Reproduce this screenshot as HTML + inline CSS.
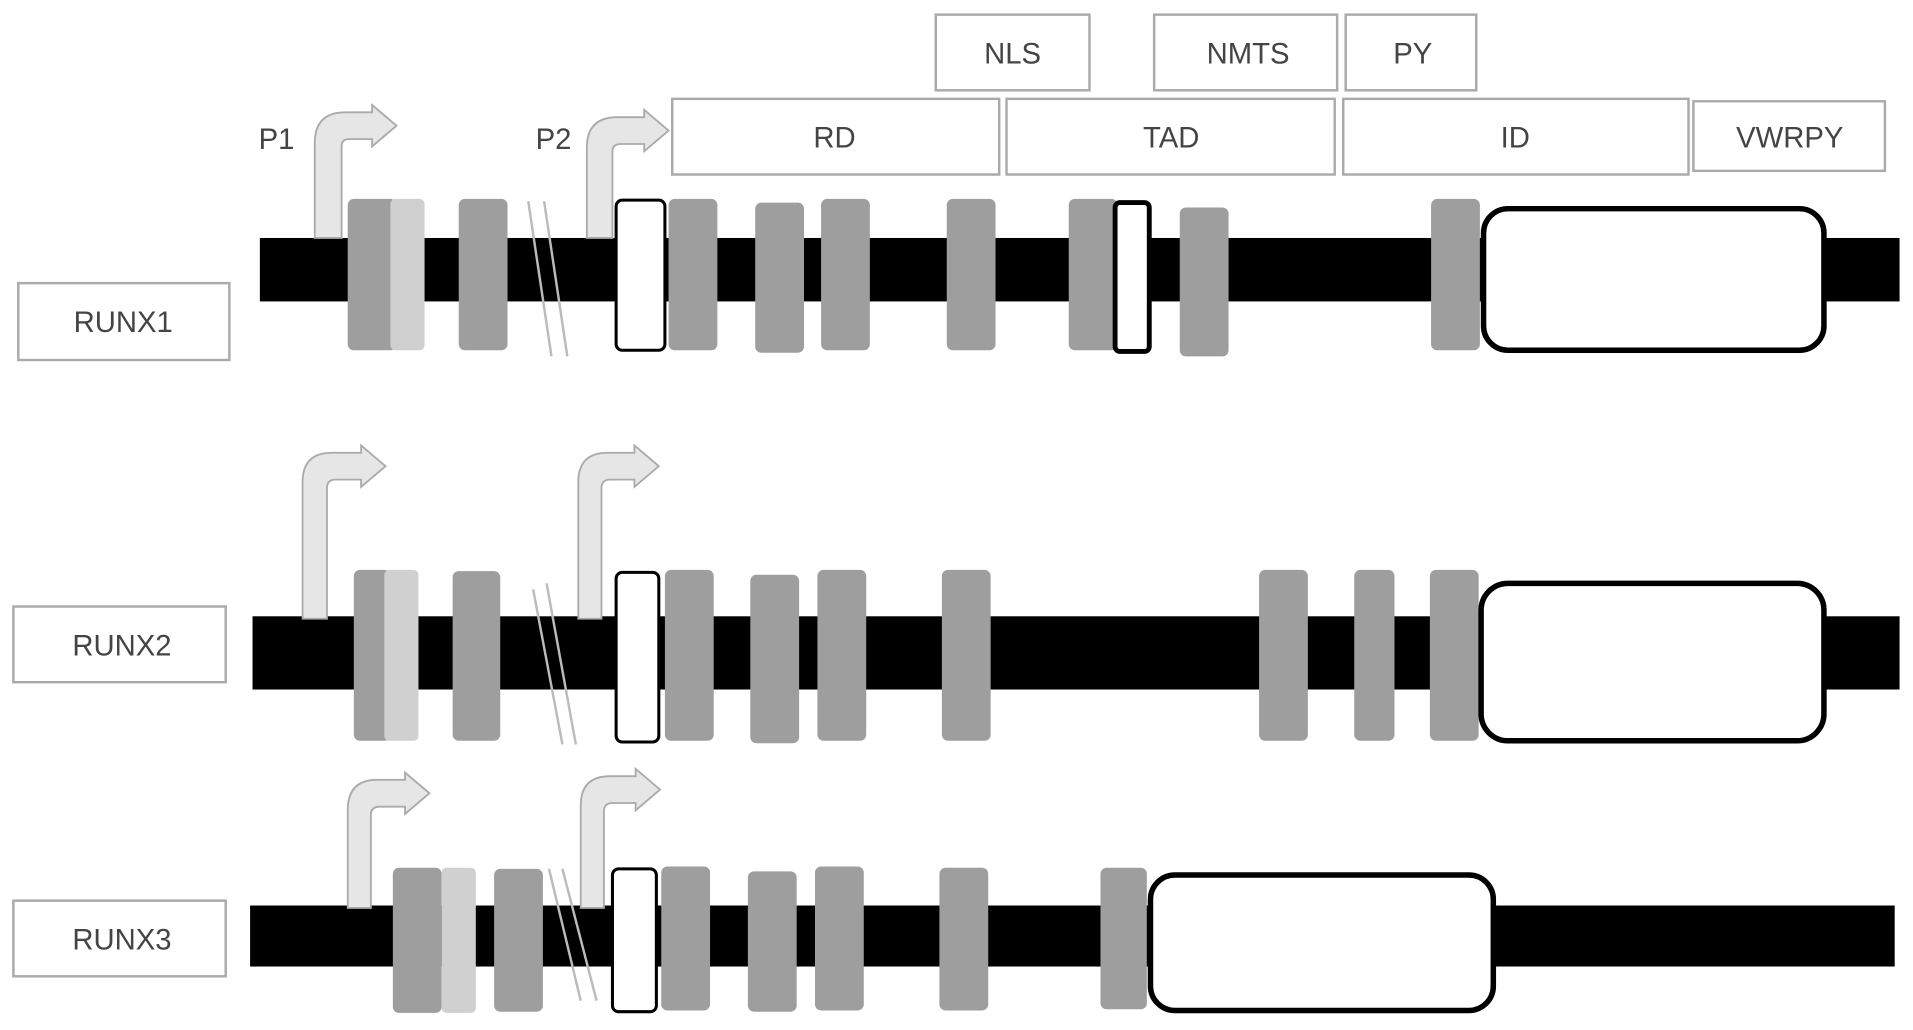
<!DOCTYPE html>
<html><head><meta charset="utf-8"><style>
html,body{margin:0;padding:0;background:#fff;}
svg{display:block;}
text{font-family:"Liberation Sans",sans-serif;fill:#444;font-size:24px;}
</style></head><body>
<svg width="1913" height="1030" viewBox="0 0 1568 844" preserveAspectRatio="none" xmlns="http://www.w3.org/2000/svg">
<defs>
<style>
.dom{fill:#fff;stroke:#aaa;stroke-width:2;}
.ex{fill:#9e9e9e;}
.lt{fill:#d0d0d0;}
.wb{fill:#fff;stroke:#000;stroke-width:2.5;}
.ar{fill:#e6e6e6;stroke:#aaa;stroke-width:1.5;}
.sl{stroke:#bbb;stroke-width:2;}
</style>
</defs>
<!-- domain boxes -->
<rect class="dom" x="767" y="12" width="126" height="62"/><text x="830" y="52" text-anchor="middle">NLS</text>
<rect class="dom" x="946" y="12" width="150" height="62"/><text x="1023" y="52" text-anchor="middle">NMTS</text>
<rect class="dom" x="1103" y="12" width="107" height="62"/><text x="1158" y="52" text-anchor="middle">PY</text>
<rect class="dom" x="551" y="81" width="268" height="62"/><text x="684" y="121" text-anchor="middle">RD</text>
<rect class="dom" x="825" y="81" width="269" height="62"/><text x="960" y="121" text-anchor="middle">TAD</text>
<rect class="dom" x="1101" y="81" width="283" height="62"/><text x="1242" y="121" text-anchor="middle">ID</text>
<rect class="dom" x="1388" y="83" width="157" height="57"/><text x="1467" y="121" text-anchor="middle">VWRPY</text>

<!-- RUNX1 -->
<rect class="dom" x="15" y="232" width="173" height="63"/><text x="101" y="272" text-anchor="middle">RUNX1</text>
<rect x="213" y="195" width="1344" height="52" fill="#000"/>
<text x="212" y="122">P1</text><text x="439" y="122">P2</text>
<path class="ar" d="M258,195 L258,117 Q258,92 283,92 L305,92 L305,86 L325,103 L305,120 L305,114 L286,114 Q280,114 280,120 L280,195 Z"/>
<path class="ar" d="M481,195 L481,121 Q481,96 506,96 L528,96 L528,90 L548,107 L528,124 L528,118 L509,118 Q502,118 502,124 L502,195 Z"/>
<rect class="ex" x="285" y="163" width="40" height="124" rx="5"/><rect class="lt" x="320" y="163" width="28" height="124" rx="4"/>
<rect class="ex" x="376" y="163" width="40" height="124" rx="5"/>
<line class="sl" x1="433" y1="165" x2="452" y2="292"/><line class="sl" x1="446" y1="165" x2="465" y2="292"/>
<rect class="wb" x="505" y="164" width="40" height="123" rx="5"/>
<rect class="ex" x="548" y="163" width="40" height="124" rx="5"/>
<rect class="ex" x="619" y="166" width="40" height="123" rx="5"/>
<rect class="ex" x="673" y="163" width="40" height="124" rx="5"/>
<rect class="ex" x="776" y="163" width="40" height="124" rx="5"/>
<rect class="ex" x="876" y="163" width="40" height="124" rx="5"/>
<rect x="914" y="166" width="28" height="122" rx="4" fill="#fff" stroke="#000" stroke-width="4"/>
<rect class="ex" x="967" y="170" width="40" height="122" rx="5"/>
<rect class="ex" x="1173" y="163" width="40" height="124" rx="5"/>
<rect x="1216" y="171" width="279" height="116" rx="20" fill="#fff" stroke="#000" stroke-width="4.5"/>

<!-- RUNX2 -->
<rect class="dom" x="11" y="497" width="174" height="62"/><text x="100" y="537" text-anchor="middle">RUNX2</text>
<rect x="207" y="505" width="1350" height="60" fill="#000"/>
<path class="ar" d="M248,507 L248,395 Q248,371 272,371 L296,371 L296,365 L316,382 L296,399 L296,393 L275,393 Q268,393 268,400 L268,507 Z"/>
<path class="ar" d="M474,507 L474,395 Q474,371 498,371 L520,371 L520,365 L540,382 L520,399 L520,393 L500,393 Q493,393 493,400 L493,507 Z"/>
<rect class="ex" x="290" y="467" width="30" height="140" rx="5"/><rect class="lt" x="315" y="467" width="28" height="140" rx="4"/>
<rect class="ex" x="371" y="468" width="39" height="139" rx="5"/>
<line class="sl" x1="437" y1="483" x2="461" y2="610"/><line class="sl" x1="448" y1="478" x2="472" y2="610"/>
<rect class="wb" x="505" y="469" width="35" height="139" rx="5"/>
<rect class="ex" x="545" y="467" width="40" height="140" rx="5"/>
<rect class="ex" x="615" y="471" width="40" height="138" rx="5"/>
<rect class="ex" x="670" y="467" width="40" height="140" rx="5"/>
<rect class="ex" x="772" y="467" width="40" height="140" rx="5"/>
<rect class="ex" x="1032" y="467" width="40" height="140" rx="5"/>
<rect class="ex" x="1110" y="467" width="33" height="140" rx="5"/>
<rect class="ex" x="1172" y="467" width="40" height="140" rx="5"/>
<rect x="1214" y="478" width="281" height="129" rx="22" fill="#fff" stroke="#000" stroke-width="4.5"/>

<!-- RUNX3 -->
<rect class="dom" x="11" y="738" width="174" height="62"/><text x="100" y="778" text-anchor="middle">RUNX3</text>
<rect x="205" y="742" width="1348" height="50" fill="#000"/>
<path class="ar" d="M285,744 L285,664 Q285,639 309,639 L332,639 L332,633 L352,650 L332,667 L332,661 L311,661 Q304,661 304,668 L304,744 Z"/>
<path class="ar" d="M476,744 L476,660 Q476,636 500,636 L521,636 L521,630 L541,647 L521,664 L521,658 L502,658 Q495,658 495,665 L495,744 Z"/>
<rect class="ex" x="322" y="711" width="40" height="119" rx="5"/><rect class="lt" x="362" y="711" width="28" height="119" rx="4"/>
<rect class="ex" x="405" y="712" width="40" height="117" rx="5"/>
<line class="sl" x1="450" y1="712" x2="476" y2="820"/><line class="sl" x1="461" y1="712" x2="489" y2="820"/>
<rect class="wb" x="502" y="712" width="36" height="117" rx="5"/>
<rect class="ex" x="542" y="710" width="40" height="118" rx="5"/>
<rect class="ex" x="613" y="714" width="40" height="115" rx="5"/>
<rect class="ex" x="668" y="710" width="40" height="118" rx="5"/>
<rect class="ex" x="770" y="711" width="40" height="117" rx="5"/>
<rect class="ex" x="902" y="711" width="38" height="116" rx="5"/>
<rect x="943" y="717" width="281" height="111" rx="20" fill="#fff" stroke="#000" stroke-width="4.5"/>
</svg>
</body></html>
